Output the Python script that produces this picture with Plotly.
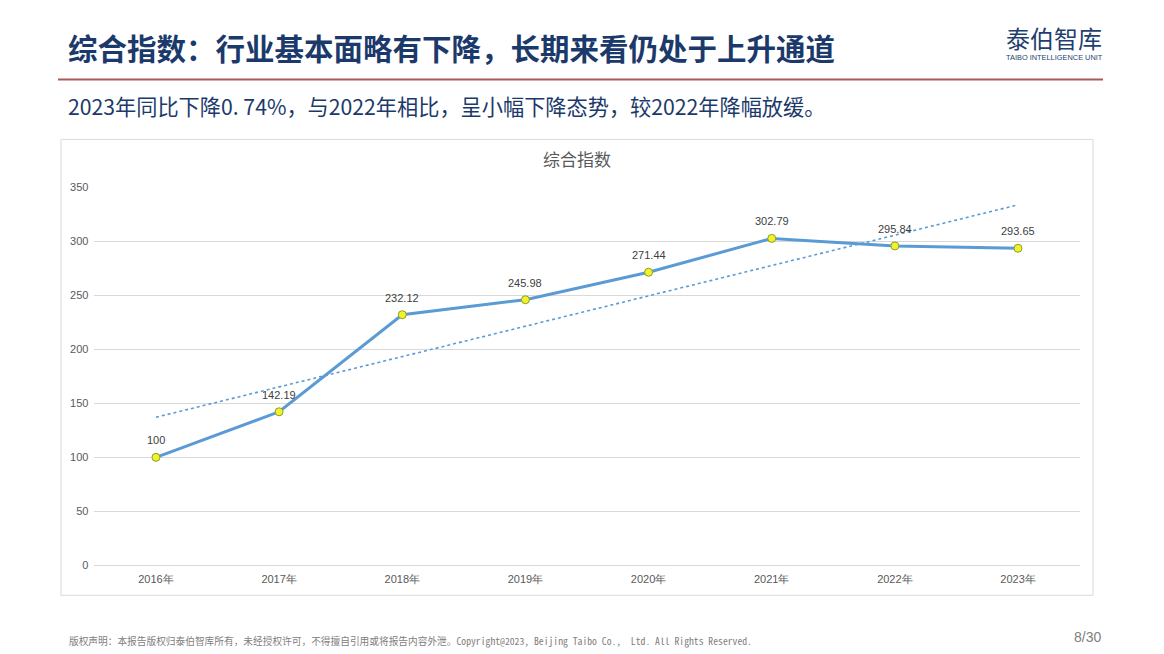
import numpy as np
import plotly.graph_objects as go

# ---- data ----
years = ["2016年", "2017年", "2018年", "2019年", "2020年", "2021年", "2022年", "2023年"]
index_values = [100, 142.19, 232.12, 245.98, 271.44, 302.79, 295.84, 293.65]
value_labels = ["100", "142.19", "232.12", "245.98", "271.44", "302.79", "295.84", "293.65"]
y_ticks = [0, 50, 100, 150, 200, 250, 300, 350]

title_text = "综合指数：行业基本面略有下降，长期来看仍处于上升通道"
subtitle_text = "2023年同比下降0. 74%，与2022年相比，呈小幅下降态势，较2022年降幅放缓。"
chart_title = "综合指数"
logo_text = "泰伯智库"
logo_sub = "TAIBO INTELLIGENCE UNIT"
footer_text = "版权声明：本报告版权归泰伯智库所有，未经授权许可，不得擅自引用或将报告内容外泄。Copyright@2023, Beijing Taibo Co.,  Ltd. All Rights Reserved."
page_text = "8/30"

W, H = 1164, 654
# screen-pixel -> paper fraction (with a small vertical compensation observed in the viewer)
VS, VO = 0.982, 5.5
def px(x):
    return x / W
def py(y):
    return 1 - ((y - VO) / VS) / H

CJK = "Noto Sans CJK SC"
MONO = "Noto Sans Mono CJK SC, Noto Sans CJK SC, monospace"
NUM = "Liberation Sans, Arial, sans-serif"

# linear trendline (least squares, as Excel's linear trendline)
xi = np.arange(len(index_values))
slope, intercept = np.polyfit(xi, index_values, 1)
trend = list(intercept + slope * xi)

fig = go.Figure()

fig.add_trace(go.Scatter(
    x=years, y=trend, mode="lines",
    line=dict(color="#5B9BD5", width=1.6, dash="dot"),
    hoverinfo="skip", showlegend=False,
))
fig.add_trace(go.Scatter(
    x=years, y=index_values, mode="lines+markers",
    line=dict(color="#5B9BD5", width=3),
    marker=dict(size=8, color="#F0F32C", line=dict(color="#8F9B2A", width=1)),
    showlegend=False,
))

annotations = []
for yr, v, lab in zip(years, index_values, value_labels):
    annotations.append(dict(
        x=yr, y=v, xref="x", yref="y", text=lab, showarrow=False,
        yshift=17, font=dict(family=NUM, size=11, color="#404040"),
    ))

# page text
annotations += [
    dict(x=px(66), y=py(47), xref="paper", yref="paper", xanchor="left", yanchor="middle",
         text="<b>" + title_text + "</b>", showarrow=False,
         font=dict(family=CJK, size=29.5, color="#1B3A6B")),
    dict(x=px(66), y=py(105), xref="paper", yref="paper", xanchor="left", yanchor="middle",
         text=subtitle_text, showarrow=False,
         font=dict(family=CJK, size=21.2, color="#1B3A6B")),
    dict(x=px(1054), y=py(37), xref="paper", yref="paper", xanchor="center", yanchor="middle",
         text=logo_text, showarrow=False,
         font=dict(family=CJK, size=24, color="#1F3F70")),
    dict(x=px(1054), y=py(57.5), xref="paper", yref="paper", xanchor="center", yanchor="middle",
         text=logo_sub, showarrow=False,
         font=dict(family=NUM, size=7.4, color="#1F3F70")),
    dict(x=px(577), y=py(158), xref="paper", yref="paper", xanchor="center", yanchor="middle",
         text=chart_title, showarrow=False,
         font=dict(family=CJK, size=17, color="#595959")),
    dict(x=px(67), y=py(641), xref="paper", yref="paper", xanchor="left", yanchor="middle",
         text=footer_text, showarrow=False,
         font=dict(family=MONO, size=9.7, color="#808080")),
    dict(x=px(1103), y=py(637), xref="paper", yref="paper", xanchor="right", yanchor="middle",
         text=page_text, showarrow=False,
         font=dict(family=NUM, size=14, color="#808080")),
]

shapes = [
    dict(type="line", xref="paper", yref="paper", x0=px(58), x1=px(1103), y0=py(79), y1=py(79),
         line=dict(color="#A85A5A", width=2)),
    dict(type="rect", xref="paper", yref="paper", x0=px(61), x1=px(1093), y0=py(595), y1=py(139),
         line=dict(color="#D9D9D9", width=1), layer="below"),
]

fig.update_layout(
    width=W, height=H,
    margin=dict(l=0, r=0, t=0, b=0),
    paper_bgcolor="white", plot_bgcolor="white",
    font=dict(family=NUM, color="#595959"),
    showlegend=False,
    annotations=annotations, shapes=shapes,
    xaxis=dict(
        domain=[px(94.4), px(1079.6)],
        range=[-0.5, 7.5], type="category",
        showgrid=False, zeroline=False, showline=False, ticks="",
        ticklabelstandoff=6,
        tickfont=dict(family=NUM, size=11, color="#595959"),
    ),
    yaxis=dict(
        domain=[py(565), py(187)],
        range=[0, 350], tickvals=y_ticks,
        showgrid=True, gridcolor="#D9D9D9", gridwidth=1,
        zeroline=True, zerolinecolor="#D9D9D9", zerolinewidth=1,
        showline=False, ticks="",
        ticklabelstandoff=5,
        tickfont=dict(family=NUM, size=11, color="#595959"),
    ),
)

fig.write_html(
    "out.html",
    config={"displayModeBar": False},
    post_script="document.body.style.margin='0';document.body.style.overflow='hidden';",
)
